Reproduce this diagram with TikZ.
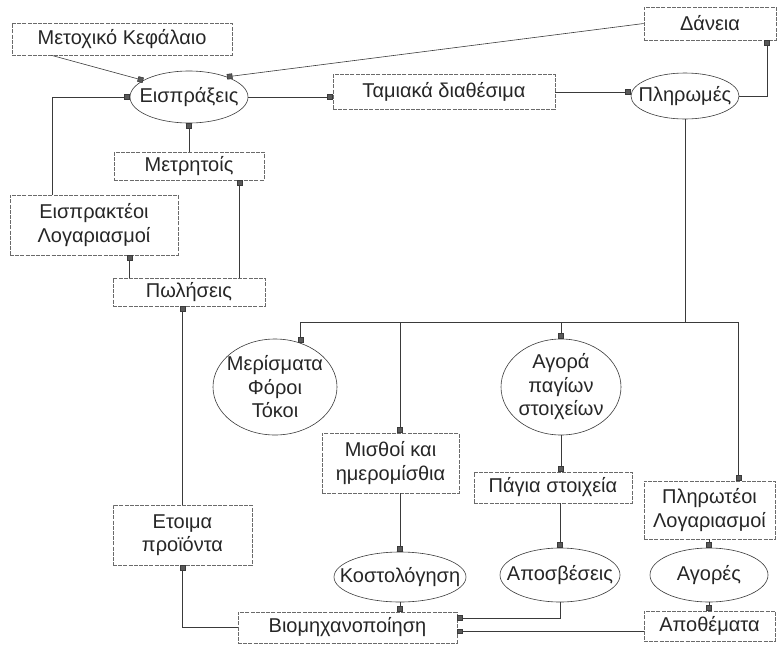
\documentclass[tikz,border=0pt]{standalone}
\usepackage{fontspec}
\setmainfont{Liberation Sans}
\usetikzlibrary{arrows.meta, positioning, shapes.geometric, calc}
\definecolor{cline}{HTML}{3A3A3A}
\definecolor{cbox}{HTML}{6A6A6A}
\definecolor{ctext}{HTML}{262626}

\begin{document}
\begin{tikzpicture}[
    x=1pt, y=-1pt,
    every node/.style={font=\fontsize{20}{23.5}\selectfont, text=ctext, align=center, inner sep=0pt},
    acct/.style={rectangle, draw=cbox, dash pattern=on 4pt off 1.2pt, line width=0.6pt},
    oper/.style={ellipse, draw=cline, line width=0.6pt, inner xsep=-15pt, inner ysep=-2pt},
    link/.style={cline, line width=0.6pt},
    arr/.style={link, -{Square[length=5.5pt, width=5.5pt, fill=gray!70!black]}},
  ]
  \useasboundingbox (0,0) rectangle (777,646);

  % top row
  \node[acct, minimum width=220pt, minimum height=32pt] (kef) at (122, 39) {Μετοχικό Κεφάλαιο};
  \node[acct, minimum width=132pt, minimum height=33pt] (dan) at (710, 23.5) {Δάνεια};
  \node[oper, minimum width=118pt, minimum height=52pt] (eis) at (189, 97) {Εισπράξεις};
  \node[acct, minimum width=222pt, minimum height=35pt] (tam) at (444, 92) {Ταμιακά διαθέσιμα};
  \node[oper, minimum width=108pt, minimum height=46pt] (pli) at (685, 96) {Πληρωμές};

  % left column
  \node[acct, minimum width=150pt, minimum height=28pt] (met) at (189, 166) {Μετρητοίς};
  \node[acct, minimum width=168pt, minimum height=60pt] (epl) at (94, 225) {Εισπρακτέοι\\Λογαριασμοί};
  \node[acct, minimum width=152pt, minimum height=28pt] (pol) at (189, 292) {Πωλήσεις};
  \node[acct, minimum width=139pt, minimum height=60pt] (eto) at (182.5, 535) {Ετοιμα\\προϊόντα};

  % payments
  \node[oper, minimum width=124pt, minimum height=96pt] (mer) at (275, 387) {Μερίσματα\\Φόροι\\Τόκοι};
  \node[oper, minimum width=120pt, minimum height=96pt] (agp) at (561, 387) {Αγορά\\παγίων\\στοιχείων};
  \node[acct, minimum width=137pt, minimum height=60pt] (mis) at (390.5, 463) {Μισθοί και\\ημερομίσθια};
  \node[acct, minimum width=158pt, minimum height=31pt] (pag) at (553, 487.5) {Πάγια στοιχεία};
  \node[acct, minimum width=131pt, minimum height=58pt] (plo) at (709.5, 510) {Πληρωτέοι\\Λογαριασμοί};

  % bottom
  \node[oper, minimum width=132pt, minimum height=50pt] (kos) at (400, 577) {Κοστολόγηση};
  \node[oper, minimum width=120pt, minimum height=54pt] (apo) at (560, 575) {Αποσβέσεις};
  \node[oper, minimum width=118pt, minimum height=54pt] (ago) at (709, 575) {Αγορές};
  \node[acct, minimum width=219pt, minimum height=31pt] (vio) at (347.5, 627.5) {Βιομηχανοποίηση};
  \node[acct, minimum width=131pt, minimum height=30pt] (apt) at (709.5, 626) {Αποθέματα};

  \coordinate (bus) at (0, 322);
  \coordinate (ploin) at ($(plo.north west)!0.72!(plo.north east)$);
  \coordinate (polL) at ($(pol.north west)!0.11!(pol.north east)$);
  \coordinate (polR) at ($(pol.north west)!0.83!(pol.north east)$);
  \coordinate (eplin) at ($(epl.north west)!0.25!(epl.north east)$);
  \coordinate (danin) at ($(dan.south west)!0.93!(dan.south east)$);
  \coordinate (vioA) at ($(vio.north east)!0.2!(vio.south east)$);
  \coordinate (vioB) at ($(vio.north east)!0.62!(vio.south east)$);

  \draw[arr] (kef.193) -- (eis.160);
  \draw[arr] (dan.west) -- (eis.28);
  \draw[arr] (eplin) |- (eis.west);
  \draw[arr] (met.north) -- (eis.south);
  \draw[arr] (eis.east) -- (eis.east -| tam.west);
  \draw[arr] (tam.east) -- (tam.east -| pli.west);
  \draw[arr] (pli.east) -| (danin);

  \draw[arr] (polL) -- (polL |- epl.south);
  \draw[arr] (polR) -- (polR |- met.south);
  \draw[arr] (eto.north) -- (eto.north |- pol.south);
  \draw[arr] (vio.west) -| (eto.south);

  \draw[link] (pli.south) -- (pli.south |- bus);
  \draw[link] (mer.60 |- bus) -- (ploin |- bus);
  \draw[arr] (mer.60 |- bus) -- (mer.60);
  \draw[arr] (kos.north |- bus) -- (kos.north |- mis.north);
  \draw[arr] (agp.north |- bus) -- (agp.north);
  \draw[arr] (ploin |- bus) -- (ploin);

  \draw[arr] (kos.north |- mis.south) -- (kos.north);
  \draw[arr] (agp.south) -- (agp.south |- pag.north);
  \draw[arr] (apo.north |- pag.south) -- (apo.north);
  \draw[arr] (ago.north |- plo.south) -- (ago.north);
  \draw[arr] (ago.south) -- (ago.south |- apt.north);
  \draw[arr] (kos.south) -- (kos.south |- vio.north);
  \draw[arr] (apo.south) |- (vioA);
  \draw[arr] (apt.west |- vioB) -- (vioB);

\end{tikzpicture}
\end{document}
